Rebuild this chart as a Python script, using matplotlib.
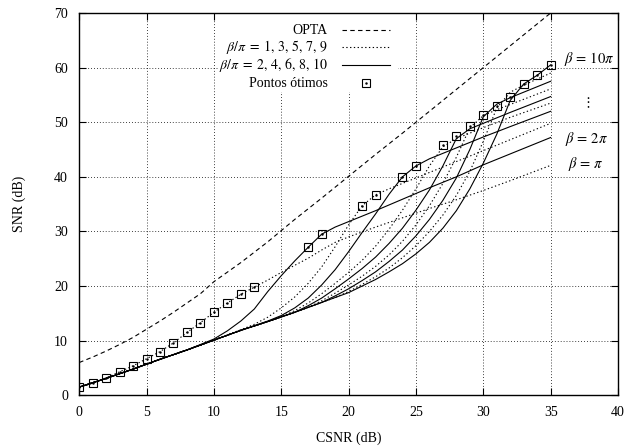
import matplotlib
matplotlib.use("Agg")
import matplotlib.pyplot as plt
from matplotlib.patches import Rectangle

plt.rcParams["font.family"] = ["Liberation Serif", "DejaVu Serif"]
plt.rcParams["mathtext.fontset"] = "stix"

# Theoretical limit (OPTA)
opta_x = [0, 1, 2, 3, 4, 5, 6, 7, 8, 9, 10, 12, 14, 16, 18, 20, 22, 24, 26, 28, 30, 32, 34, 35]
opta_y = [6.0, 7.0, 8.1, 9.3, 10.6, 12.1, 13.6, 15.2, 16.9, 18.6, 20.8, 24.3, 28.1, 32.2, 36.1, 40.1, 44.1, 48.0, 52.0, 56.0, 60.0, 64.0, 68.0, 70.0]

# Common low-CSNR branch shared by beta = 2pi ... 10pi
base_x = [0, 2, 4, 6, 8, 10, 12, 14, 16, 18, 20, 22]
base_y = [1.5, 3.1, 4.8, 6.6, 8.3, 10.1, 11.9, 13.5, 15.2, 17.0, 18.8, 20.6]

# beta = pi (follows the optimum points at low CSNR)
b1_x = [0, 1, 2, 3, 4, 5, 6, 7, 8, 9, 10, 11, 12, 13, 14, 15, 16, 17, 18, 19, 20, 22, 24, 26, 28, 30, 32, 35]
b1_y = [1.5, 2.2, 3.2, 4.3, 5.4, 6.7, 8.0, 9.6, 11.5, 13.3, 15.2, 16.9, 18.5, 19.8, 21.1, 22.5, 23.8, 25.1, 26.6, 28.0, 29.0, 30.8, 32.5, 34.2, 35.8, 37.5, 39.3, 42.1]

# beta = 2pi ... 10pi, from the point where each leaves the common branch
b2_x = [10, 11, 12, 13, 14, 15, 16, 17, 18, 19, 20, 22, 24, 26, 28, 30, 32, 35]
b2_y = [10.3, 11.8, 13.6, 15.8, 19.0, 21.9, 24.6, 27.1, 29.5, 30.8, 31.8, 33.8, 35.9, 38.0, 40.0, 42.2, 44.2, 47.2]

b3_x = [12, 13, 14, 15, 16, 17, 18, 19, 20, 21, 22, 23, 25, 27, 30, 35]
b3_y = [12.0, 13.0, 14.3, 16.0, 18.0, 20.5, 23.5, 27.2, 31.2, 34.7, 36.7, 37.8, 39.8, 41.8, 44.8, 49.8]

b4_x = [14, 15, 16, 17, 18, 19, 20, 21, 22, 23, 24, 25, 26, 28, 30, 32, 35]
b4_y = [13.6, 14.6, 16.0, 17.8, 20.2, 23.0, 26.3, 29.8, 33.2, 36.8, 40.0, 42.0, 43.3, 45.3, 47.3, 49.2, 52.0]

b5_x = [15, 16, 17, 18, 19, 20, 21, 22, 23, 24, 25, 26, 27, 28, 30, 32, 35]
b5_y = [14.4, 15.5, 16.9, 18.6, 20.5, 22.5, 24.7, 27.3, 30.4, 33.9, 37.8, 42.0, 45.5, 47.0, 49.0, 50.9, 53.5]

b6_x = [16, 17, 18, 19, 20, 21, 22, 23, 24, 25, 26, 27, 28, 29, 30, 32, 35]
b6_y = [15.2, 16.4, 17.8, 19.5, 21.3, 23.2, 25.3, 27.8, 30.6, 33.9, 37.6, 42.0, 47.0, 48.8, 49.8, 51.8, 54.7]

b7_x = [17, 18, 19, 20, 21, 22, 23, 24, 25, 26, 27, 28, 29, 30, 31, 33, 35]
b7_y = [16.1, 17.3, 18.7, 20.2, 21.8, 23.6, 25.7, 28.2, 31.2, 34.7, 38.8, 43.6, 49.0, 51.2, 52.3, 54.2, 56.1]

b8_x = [18, 19, 20, 21, 22, 23, 24, 25, 26, 27, 28, 29, 30, 31, 32, 35]
b8_y = [17.0, 18.2, 19.5, 21.0, 22.6, 24.5, 26.6, 29.2, 32.2, 35.7, 39.8, 45.0, 51.0, 53.3, 54.5, 57.5]

b9_x = [19, 20, 21, 22, 23, 24, 25, 26, 27, 28, 29, 30, 31, 32, 33, 35]
b9_y = [17.9, 19.0, 20.3, 21.7, 23.3, 25.2, 27.4, 30.0, 33.0, 36.6, 41.0, 46.5, 52.6, 55.5, 56.8, 59.0]

b10_x = [20, 21, 22, 23, 24, 25, 26, 27, 28, 29, 30, 31, 32, 33, 34, 35]
b10_y = [18.8, 20.0, 21.2, 22.6, 24.1, 25.9, 28.0, 30.6, 33.8, 37.8, 42.5, 47.8, 54.0, 57.0, 58.6, 60.5]

# Optimum points
opt_x = [0, 1, 2, 3, 4, 5, 6, 7, 8, 9, 10, 11, 12, 13, 17, 18, 21, 22, 24, 25, 27, 28, 29, 30, 31, 32, 33, 34, 35]
opt_y = [1.5, 2.2, 3.2, 4.3, 5.4, 6.7, 8.0, 9.6, 11.6, 13.3, 15.2, 16.9, 18.5, 19.8, 27.1, 29.5, 34.7, 36.7, 40.0, 42.0, 45.9, 47.5, 49.4, 51.3, 53.0, 54.7, 57.0, 58.6, 60.5]

curves = [(b2_x, b2_y), (b3_x, b3_y), (b4_x, b4_y), (b5_x, b5_y), (b6_x, b6_y),
          (b7_x, b7_y), (b8_x, b8_y), (b9_x, b9_y), (b10_x, b10_y)]

legend_labels = ["OPTA", r"$\beta/\pi\;=\;1,\,3,\,5,\,7,\,9$",
                 r"$\beta/\pi\;=\;2,\,4,\,6,\,8,\,10$", "Pontos ótimos"]

W, H = 630, 448
L, R, T, B = 79.2, 618.0, 13.0, 395.3

fig = plt.figure(figsize=(W / 100, H / 100), dpi=100)
ax = fig.add_axes([L / W, (H - B) / H, (R - L) / W, (B - T) / H])


def ax_frac(px, py):
    return (px - L) / (R - L), (B - py) / (B - T)


lw = 0.8
dotted = (0, (1.2, 2.2))
dashed = (0, (4, 3))
styles = [dashed, dotted, "-"]

ax.plot(opta_x, opta_y, color="black", lw=lw, linestyle=dashed)
ax.plot(b1_x, b1_y, color="black", lw=lw, linestyle=dotted)
for k, (cx, cy) in enumerate(curves, start=2):
    bx = [x for x in base_x if x < cx[0]]
    by = [y for x, y in zip(base_x, base_y) if x < cx[0]]
    style = "-" if k % 2 == 0 else dotted
    ax.plot(bx + cx, by + cy, color="black", lw=lw, linestyle=style)

sq = dict(marker="s", markersize=5.2, markerfacecolor="none",
          markeredgecolor="black", markeredgewidth=0.8)
ax.plot(opt_x, opt_y, linestyle="none", **sq)
ax.plot(opt_x, opt_y, linestyle="none", marker=".", markersize=1.5, color="black")

ax.set_xlim(0, 40)
ax.set_ylim(0, 70)
ax.set_xticks(range(0, 41, 5))
ax.set_yticks(range(0, 71, 10))
ax.tick_params(direction="in", top=True, right=True, length=5, width=0.8,
               labelsize=10, pad=8)
ax.grid(True, color="black", lw=0.6, linestyle=(0, (1, 2.5)))
for s in ax.spines.values():
    s.set_linewidth(1.0)
    s.set_zorder(5)

ax.set_xlabel("CSNR (dB)", fontsize=10, labelpad=9)
ax.set_ylabel("SNR (dB)", fontsize=10, labelpad=20)

# key box (opaque, hides the grid behind it)
x0, y0 = ax_frac(218, 92)
x1, y1 = ax_frac(398, 14)
ax.add_patch(Rectangle((x0, y0), x1 - x0, y1 - y0, transform=ax.transAxes,
                       facecolor="white", edgecolor="none", zorder=3))
rows_py = [30, 47, 64.5, 83]
for i, (lab, py) in enumerate(zip(legend_labels, rows_py)):
    tx, ty = ax_frac(328, py)
    ax.text(tx, ty, lab, transform=ax.transAxes, ha="right", va="center",
            fontsize=10, zorder=4)
    lx0, ly = ax_frac(342, py)
    lx1, _ = ax_frac(390, py)
    if i < 3:
        ax.plot([lx0, lx1], [ly, ly], transform=ax.transAxes, color="black",
                lw=lw, linestyle=styles[i], zorder=4)
    else:
        mx, _ = ax_frac(366, py)
        ax.plot([mx], [ly], transform=ax.transAxes, linestyle="none", zorder=4, **sq)
        ax.plot([mx], [ly], transform=ax.transAxes, linestyle="none", marker=".",
                markersize=1.5, color="black", zorder=4)

ax.text(36.0, 61.5, r"$\beta\,=\,10\pi$", fontsize=10.5, va="center", ha="left")
ax.text(37.7, 53.5, r"$\vdots$", fontsize=10, va="center", ha="center")
ax.text(36.1, 47.0, r"$\beta\,=\,2\pi$", fontsize=10.5, va="center", ha="left")
ax.text(36.3, 42.3, r"$\beta\,=\,\pi$", fontsize=10.5, va="center", ha="left")

fig.savefig("out.png", dpi=100)
